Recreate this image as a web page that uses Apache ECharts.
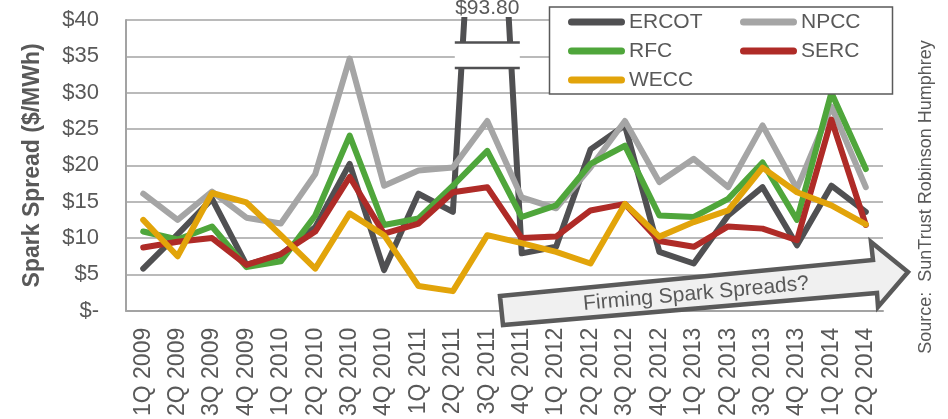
<!DOCTYPE html>
<html>
<head>
<meta charset="utf-8">
<script src="https://cdn.jsdelivr.net/npm/echarts@6/dist/echarts.min.js"></script>
<style>
  html, body { margin: 0; padding: 0; background: #ffffff; }
  #chart { width: 948px; height: 419px; }
</style>
</head>
<body>
<div id="chart"></div>
<script>
// Quarterly spark spreads by NERC region ($/MWh)
const quarters = ['1Q 2009', '2Q 2009', '3Q 2009', '4Q 2009', '1Q 2010', '2Q 2010', '3Q 2010', '4Q 2010',
                  '1Q 2011', '2Q 2011', '3Q 2011', '4Q 2011', '1Q 2012', '2Q 2012', '3Q 2012', '4Q 2012',
                  '1Q 2013', '2Q 2013', '3Q 2013', '4Q 2013', '1Q 2014', '2Q 2014'];
const ercot = [5.8, 10.5, 15.4, 6.3, 7.7, 11.5, 20.2, 5.6, 16.1, 13.6, 93.8, 7.9, 8.8, 22.2, 25.5, 8.1, 6.5, 13.1, 17.0, 9.0, 17.2, 13.6];
const npcc  = [16.1, 12.5, 16.4, 12.8, 12.0, 18.8, 34.7, 17.2, 19.3, 19.7, 26.1, 15.6, 14.1, 19.7, 26.1, 17.7, 20.9, 17.0, 25.5, 16.8, 28.1, 17.0];
const rfc   = [10.9, 9.8, 11.6, 6.0, 6.8, 13.1, 24.1, 11.8, 12.7, 17.2, 22.0, 12.9, 14.5, 20.2, 22.7, 13.1, 12.9, 15.4, 20.4, 12.5, 30.0, 19.5];
const serc  = [8.7, 9.5, 10.0, 6.3, 7.8, 10.9, 18.4, 10.6, 12.0, 16.3, 17.0, 10.0, 10.2, 13.8, 14.7, 9.6, 8.8, 11.6, 11.3, 9.7, 26.3, 11.8];
const wecc  = [12.5, 7.5, 16.2, 14.9, 10.4, 5.8, 13.4, 10.4, 3.4, 2.7, 10.4, 9.3, 8.1, 6.5, 14.7, 10.2, 12.2, 13.8, 19.7, 16.3, 14.5, 11.9];

const yMin = 0, yMax = 40, yStep = 5;
const annotationText = 'Firming Spark Spreads?';
const sourceText = 'Source:  SunTrust Robinson Humphrey';

const FONT = '"Liberation Sans", Arial, Helvetica, sans-serif';
const TEXT_GRAY = '#595959';
const GRID_GRAY = '#A3A3A3';

const colors = {
  ERCOT: '#505052',
  NPCC: '#A5A5A5',
  RFC: '#4FA63B',
  SERC: '#AF2B27',
  WECC: '#E2A40A'
};

function lineSeries(name, data) {
  return {
    name: name,
    type: 'line',
    data: data,
    showSymbol: false,
    symbol: 'none',
    clip: true,
    lineStyle: { color: colors[name], width: 6, cap: 'round', join: 'round' },
    itemStyle: { color: colors[name] },
    emphasis: { disabled: true }
  };
}

const swatch = 'path://M3.5,0 H53.5 A3.5,3.5 0 0 1 53.5,7 H3.5 A3.5,3.5 0 0 1 3.5,0 Z';

function legendColumn(left, names) {
  return {
    data: names.map(n => ({ name: n, icon: swatch })),
    orient: 'vertical',
    left: left,
    top: 11,
    padding: 0,
    itemWidth: 57,
    itemHeight: 7,
    itemGap: 7,
    selectedMode: false,
    z: 8,
    textStyle: { fontFamily: FONT, fontSize: 21, color: TEXT_GRAY, lineHeight: 22, padding: [0, 0, 0, -1] }
  };
}

const chart = echarts.init(document.getElementById('chart'), null, { renderer: 'canvas' });

chart.setOption({
  animation: false,
  backgroundColor: '#ffffff',
  textStyle: { fontFamily: FONT },
  grid: { left: 126, right: 65, top: 20, bottom: 106 },
  xAxis: {
    type: 'category',
    data: quarters,
    boundaryGap: true,
    axisLine: { show: true, lineStyle: { color: GRID_GRAY, width: 2 } },
    axisTick: { show: false },
    splitLine: { show: false },
    axisLabel: { rotate: 90, interval: 0, margin: 17, color: TEXT_GRAY, fontSize: 23, fontFamily: FONT }
  },
  yAxis: {
    type: 'value',
    min: yMin,
    max: yMax,
    interval: yStep,
    axisLine: { show: true, lineStyle: { color: GRID_GRAY, width: 2 } },
    axisTick: { show: false },
    splitLine: { show: true, lineStyle: { color: GRID_GRAY, width: 1.5 } },
    axisLabel: {
      margin: 27, color: TEXT_GRAY, fontSize: 22, fontFamily: FONT,
      formatter: v => (v === 0 ? '$-' : '$' + v)
    },
    name: 'Spark Spread ($/MWh)',
    nameLocation: 'middle',
    nameGap: 82,
    nameTextStyle: { fontWeight: 'bold', fontSize: 23, color: TEXT_GRAY, fontFamily: FONT }
  },
  legend: [
    legendColumn(568, ['ERCOT', 'RFC', 'WECC']),
    legendColumn(740, ['NPCC', 'SERC'])
  ],
  series: [
    lineSeries('ERCOT', ercot),
    lineSeries('NPCC', npcc),
    lineSeries('RFC', rfc),
    lineSeries('SERC', serc),
    lineSeries('WECC', wecc)
  ]
});

// Annotations placed relative to the axes
const peakValue = Math.max.apply(null, ercot);
const peakIndex = ercot.indexOf(peakValue);
const px = chart.convertToPixel({ xAxisIndex: 0 }, peakIndex);
const yOf = v => chart.convertToPixel({ yAxisIndex: 0 }, v);
const breakTop = yOf(36.9), breakBottom = yOf(33.4);
const breakHalf = 32.5;

// Upward trend arrow across the lower band
const arrowPts = [[500, 296], [873, 260], [871, 242], [908, 272], [878, 307], [877, 293], [503, 325]];
const arrowAngle = 5.2 * Math.PI / 180;

chart.setOption({
  graphic: [
    // axis break over the off-scale peak
    {
      type: 'rect', z: 10,
      shape: { x: px - breakHalf, y: breakTop, width: breakHalf * 2, height: breakBottom - breakTop },
      style: { fill: '#ffffff' }
    },
    {
      type: 'line', z: 11,
      shape: { x1: px - breakHalf, y1: breakTop, x2: px + breakHalf, y2: breakTop },
      style: { stroke: '#505052', lineWidth: 2.5 }
    },
    {
      type: 'line', z: 11,
      shape: { x1: px - breakHalf, y1: breakBottom, x2: px + breakHalf, y2: breakBottom },
      style: { stroke: '#505052', lineWidth: 2.5 }
    },
    {
      type: 'text', z: 11,
      x: px, y: 8,
      style: {
        text: '$' + peakValue.toFixed(2), fontSize: 21, fontFamily: FONT, fill: TEXT_GRAY,
        align: 'center', verticalAlign: 'middle'
      }
    },
    // legend frame
    {
      type: 'rect', z: 7,
      shape: { x: 549.5, y: 7, width: 343, height: 87 },
      style: { fill: '#ffffff', stroke: '#5A5A5A', lineWidth: 1.5 }
    },
    // trend arrow
    {
      type: 'polygon', z: 10,
      shape: { points: arrowPts },
      style: { fill: '#F0F0F0', stroke: '#5A5A5A', lineWidth: 4.5, lineJoin: 'miter' }
    },
    {
      type: 'text', z: 11,
      x: 696, y: 294, rotation: arrowAngle,
      style: {
        text: annotationText, fontSize: 21, fontFamily: FONT, fill: TEXT_GRAY,
        align: 'center', verticalAlign: 'middle'
      }
    },
    // source note
    {
      type: 'text', z: 11,
      x: 926, y: 197, rotation: Math.PI / 2,
      style: {
        text: sourceText, fontSize: 18, fontFamily: FONT, fill: TEXT_GRAY,
        align: 'center', verticalAlign: 'middle'
      }
    }
  ]
});
</script>
</body>
</html>
